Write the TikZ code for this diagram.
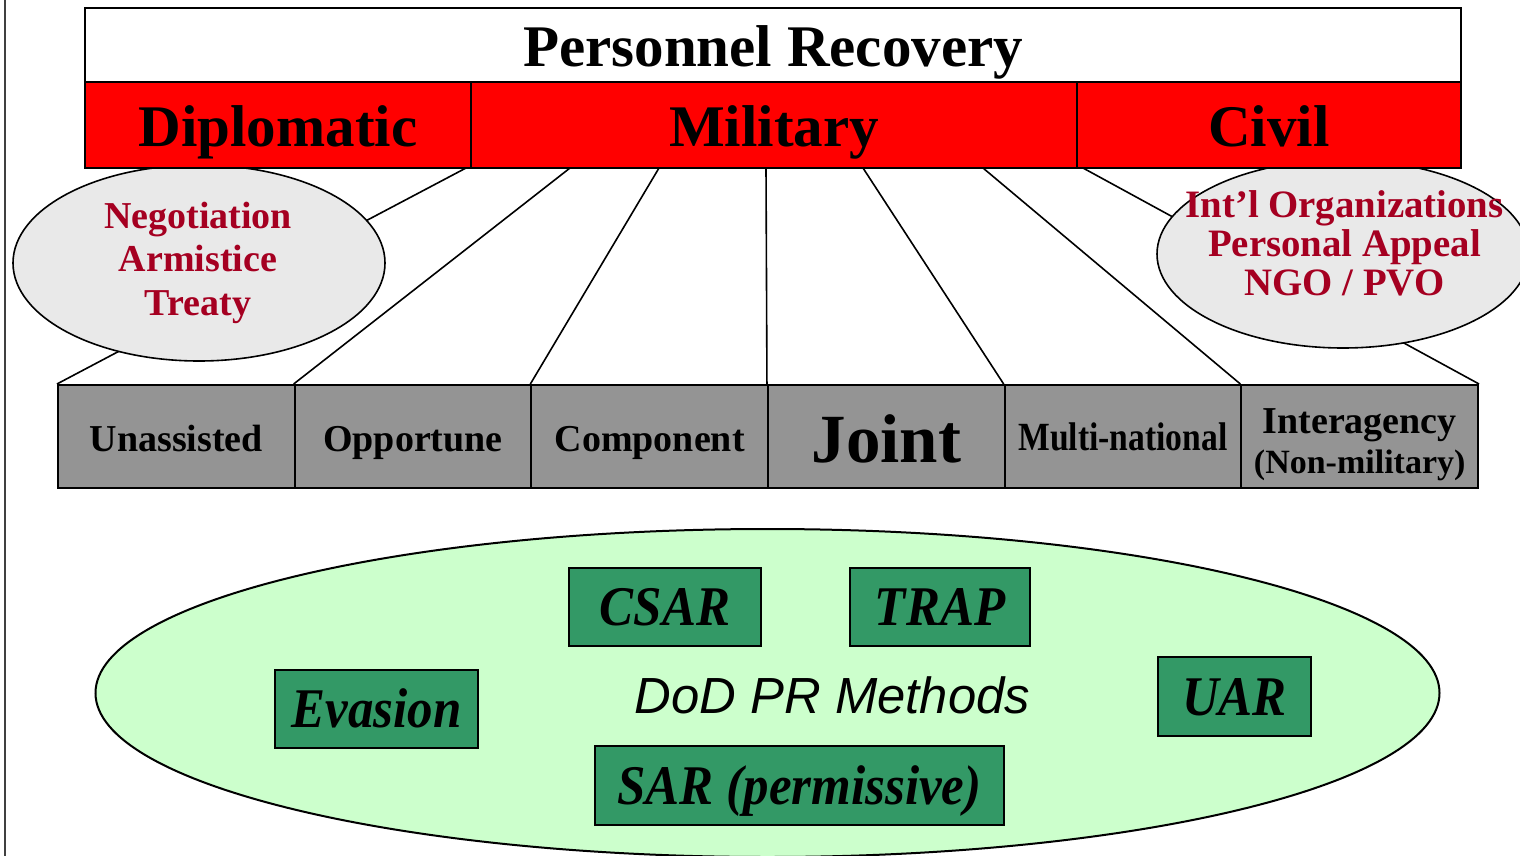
\documentclass[tikz,border=0pt]{standalone}
\usepackage{graphicx}
\usepackage{fontspec}
\setmainfont{Liberation Serif}
\newfontfamily\arialfont{Liberation Sans}

\newlength{\du}
\setlength{\du}{0.5\unitlength}
\newcommand{\narrowit}[1]{\scalebox{0.91}[1]{#1}}

\definecolor{prred}{rgb}{1.000000, 0.000000, 0.000000}
\definecolor{prgray}{rgb}{0.580000, 0.580000, 0.580000}
\definecolor{prlight}{rgb}{0.913725, 0.913725, 0.913725}
\definecolor{prwine}{rgb}{0.647059, 0.000000, 0.129412}
\definecolor{prmint}{rgb}{0.800000, 1.000000, 0.800000}
\definecolor{prgreen}{rgb}{0.200000, 0.600000, 0.400000}

\tikzset{
  diabox/.style={draw=black, line width=2\du, inner sep=0pt, text depth=0pt},
  titlebox/.style={diabox, fill=white, minimum width=1376\du, minimum height=74\du,
    text height=22pt, font=\fontsize{29.5}{32}\selectfont\bfseries},
  headbox/.style={diabox, fill=prred, minimum height=86\du,
    text height=22pt, font=\fontsize{29.5}{32}\selectfont\bfseries},
  kindbox/.style={diabox, fill=prgray, minimum width=236.7\du, minimum height=103\du,
    text height=14.5pt, font=\fontsize{19}{21}\selectfont\bfseries},
  methodbox/.style={diabox, fill=prgreen, minimum height=78\du,
    text height=18.5pt, font=\fontsize{28}{30}\selectfont\bfseries\itshape},
  talktext/.style={text=prwine, align=center, inner sep=0pt, text height=0pt, text depth=0pt}
}

\begin{document}
\begin{tikzpicture}
\pgftransformxscale{1.000000}
\pgftransformyscale{-1.000000}
\useasboundingbox (0.000000\du,0.000000\du) rectangle (1520.000000\du,856.000000\du);
\clip (0.000000\du,0.000000\du) rectangle (1520.000000\du,856.000000\du);
% page edge
\definecolor{dialinecolor}{rgb}{0.250000, 0.250000, 0.250000}
\pgfsetstrokecolor{dialinecolor}
\pgfsetlinewidth{2.000000\du}
\draw (4.500000\du,0.000000\du)--(4.500000\du,856.000000\du);
% recovery kinds
\node[kindbox] (unas) at (176.300000\du,436.500000\du) {Unassisted};
\node[kindbox] (oppo) at (413.000000\du,436.500000\du) {Opportune};
\node[kindbox] (comp) at (649.700000\du,436.500000\du) {Component};
\node[kindbox, text height=25.5pt, font=\fontsize{34.5}{36}\selectfont\bfseries] (joint) at (886.300000\du,436.500000\du) {Joint};
\node[kindbox, text height=13.5pt] (multi) at (1123.000000\du,436.500000\du) {\fontsize{20}{22}\selectfont\scalebox{0.84}[1]{Multi-national}};
\node[kindbox, align=center, text height=36.5pt, font=\fontsize{19}{20}\selectfont\bfseries] (inter) at (1359.700000\du,436.500000\du) {Interagency\\{\fontsize{17}{20}\selectfont(Non-military)}};
\coordinate (dip0) at (466.000000\du,168.000000\du);
\coordinate (mil1) at (570.000000\du,168.000000\du);
\coordinate (mil2) at (659.000000\du,168.000000\du);
\coordinate (mil3) at (766.000000\du,168.000000\du);
\coordinate (mil4) at (863.000000\du,168.000000\du);
\coordinate (mil5) at (983.000000\du,168.000000\du);
\coordinate (civ0) at (1083.000000\du,168.000000\du);
{
\pgfsetlinewidth{1.600000\du}
\pgfsetdash{}{0pt}
\pgfsetbuttcap
\definecolor{dialinecolor}{rgb}{0.000000, 0.000000, 0.000000}
\pgfsetstrokecolor{dialinecolor}
\draw (dip0)--(unas.north west);
\draw (mil1)--(oppo.north west);
\draw (mil2)--(comp.north west);
\draw (mil3)--(joint.north west);
\draw (mil4)--(multi.north west);
\draw (mil5)--(inter.north west);
\draw (civ0)--(inter.north east);
}
% talk bubbles
\draw[fill=prlight, line width=1.600000\du] (199.000000\du,263.000000\du) ellipse [x radius=186\du, y radius=98\du];
\draw[fill=prlight, line width=1.600000\du] (1343.000000\du,254.000000\du) ellipse [x radius=186\du, y radius=94\du];
\node[talktext, font=\fontsize{19}{21.7}\selectfont\bfseries] (negot) at (198.000000\du,315.000000\du) {Negotiation\\Armistice\\Treaty};
\node[talktext, font=\fontsize{19.4}{19.3}\selectfont\bfseries] (appeal) at (1344.500000\du,295.000000\du) {Int’l Organizations\\Personal Appeal\\NGO / PVO};
% heading
\node[titlebox] (prtitle) at (773.000000\du,45.000000\du) {Personnel Recovery};
\node[headbox, minimum width=386\du] (dipl) at (278.000000\du,125.000000\du) {Diplomatic};
\node[headbox, minimum width=606\du] (mil) at (774.000000\du,125.000000\du) {Military};
\node[headbox, minimum width=384\du] (civ) at (1269.000000\du,125.000000\du) {Civil};
% methods
\draw[fill=prmint, line width=2.000000\du] (767.500000\du,693.000000\du) ellipse [x radius=672\du, y radius=164\du];
\node[inner sep=0pt, text height=0pt, text depth=0pt, font=\arialfont\itshape\fontsize{25.4}{28}\selectfont] (methods) at (832.500000\du,713.000000\du) {DoD PR Methods};
\node[methodbox, minimum width=192\du] (csar) at (665.000000\du,607.000000\du) {\narrowit{CSAR}};
\node[methodbox, minimum width=180\du] (trap) at (940.000000\du,607.000000\du) {\narrowit{TRAP}};
\node[methodbox, minimum width=203\du] (evas) at (376.500000\du,709.000000\du) {\narrowit{Evasion}};
\node[methodbox, minimum width=153\du, minimum height=79\du] (uar) at (1234.500000\du,696.500000\du) {\narrowit{UAR}};
\node[methodbox, minimum width=409\du, minimum height=79\du] (sar) at (799.500000\du,785.500000\du) {\narrowit{SAR (permissive)}};
\end{tikzpicture}
\end{document}
